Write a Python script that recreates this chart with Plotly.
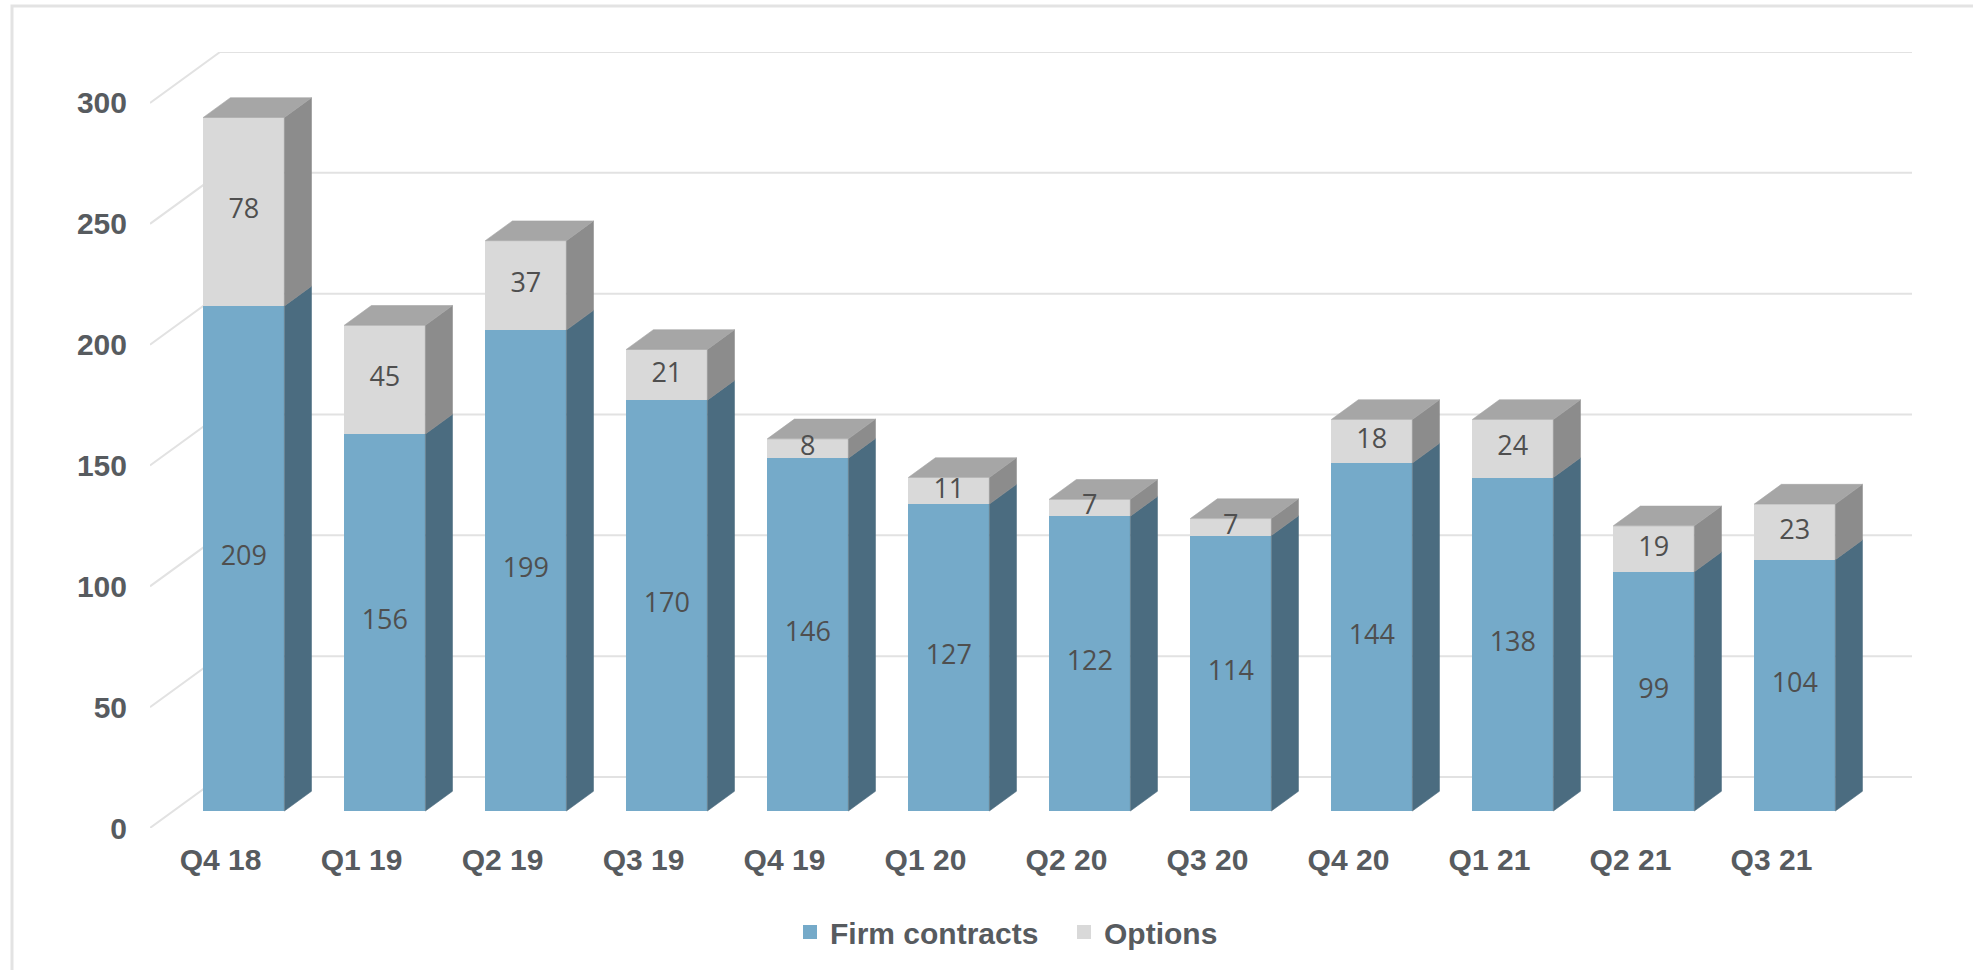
import plotly.graph_objects as go

# ---------------- data ----------------
categories = ["Q4 18", "Q1 19", "Q2 19", "Q3 19", "Q4 19", "Q1 20",
              "Q2 20", "Q3 20", "Q4 20", "Q1 21", "Q2 21", "Q3 21"]
firm_contracts = [209, 156, 199, 170, 146, 127, 122, 114, 144, 138, 99, 104]
options = [78, 45, 37, 21, 8, 11, 7, 7, 18, 24, 19, 23]
y_ticks = [0, 50, 100, 150, 200, 250, 300]
series_names = ["Firm contracts", "Options"]

# ---------------- style / geometry ----------------
W, H = 1973, 970
L, R, T, B = 150, 61, 52, 142
PW, PH = W - L - R, H - T - B

DXu = 0.4968      # full depth of the "box" in category units
DYu = 21.1        # full depth of the "box" in value units
D_FRONT = 1 / 3   # depth fraction of bar front plane
D_BACK = 0.72     # depth fraction of bar back plane
BAR_W = 0.575
X_LEFT, X_RIGHT = -0.5, len(categories) - 0.5
Y_MAX = y_ticks[-1]

FIRM_FRONT, FIRM_SIDE = "#75aac9", "#4b6c80"
OPT_FRONT, OPT_SIDE, OPT_TOP = "#d9d9d9", "#8c8c8c", "#a6a6a6"
GRID = "#e2e2e2"
TXT = "#575b5f"
LBL = "#4f4f4f"
BOLD = "Liberation Sans"


def proj(x, v, d):
    """world (x, value, depth) -> screen data coords (bar front plane = reference)"""
    return x + (d - D_FRONT) * DXu, v + (d - D_FRONT) * DYu


xs_min = proj(X_LEFT, 0, 0)[0]
xs_max = proj(X_RIGHT, 0, 1)[0]
ys_min = proj(0, 0, 0)[1]
ys_max = proj(0, Y_MAX, 1)[1]

xi = list(range(len(categories)))
bdx = (D_BACK - D_FRONT) * DXu
bdy = (D_BACK - D_FRONT) * DYu

fig = go.Figure()

# front faces (real stacked bars)
fig.add_trace(go.Bar(x=xi, y=firm_contracts, width=BAR_W, name=series_names[0],
                     marker=dict(color=FIRM_FRONT, line=dict(width=0)),
                     showlegend=False))
fig.add_trace(go.Bar(x=xi, y=options, width=BAR_W, name=series_names[1],
                     marker=dict(color=OPT_FRONT, line=dict(width=0)),
                     showlegend=False))


def poly_trace(polys, color):
    xs, ys = [], []
    for p in polys:
        for (a, b) in p:
            xs.append(a)
            ys.append(b)
        xs.append(p[0][0])
        ys.append(p[0][1])
        xs.append(None)
        ys.append(None)
    return go.Scatter(x=xs, y=ys, mode="lines", fill="toself", fillcolor=color,
                      line=dict(color=color, width=0.6), hoverinfo="skip",
                      showlegend=False)


firm_side, opt_side, opt_top = [], [], []
for i, f, o in zip(xi, firm_contracts, options):
    xr = i + BAR_W / 2
    xl = i - BAR_W / 2
    firm_side.append([(xr, 0), (xr + bdx, bdy), (xr + bdx, f + bdy), (xr, f)])
    top = f + o
    opt_side.append([(xr, f), (xr + bdx, f + bdy), (xr + bdx, top + bdy), (xr, top)])
    opt_top.append([(xl, top), (xr, top), (xr + bdx, top + bdy), (xl + bdx, top + bdy)])

fig.add_trace(poly_trace(firm_side, FIRM_SIDE))
fig.add_trace(poly_trace(opt_side, OPT_SIDE))
fig.add_trace(poly_trace(opt_top, OPT_TOP))

# data labels
lab_x, lab_y, lab_t = [], [], []
for i, f, o in zip(xi, firm_contracts, options):
    lab_x += [i, i]
    lab_y += [f / 2, f + o / 2]
    lab_t += [str(f), str(o)]
fig.add_trace(go.Scatter(x=lab_x, y=lab_y, text=lab_t, mode="text",
                         textposition="middle center",
                         textfont=dict(family="Open Sans", size=27, color=LBL),
                         hoverinfo="skip", showlegend=False))

# legend entries (one legend per entry for exact spacing)
fig.add_trace(go.Scatter(x=[None], y=[None], mode="markers", name=series_names[0],
                         marker=dict(symbol="square", size=14, color=FIRM_FRONT),
                         legend="legend", showlegend=True))
fig.add_trace(go.Scatter(x=[None], y=[None], mode="markers", name=series_names[1],
                         marker=dict(symbol="square", size=14, color=OPT_FRONT),
                         legend="legend2", showlegend=True))

# gridlines on side wall + back wall
shapes = []
for v in y_ticks:
    x0, y0 = proj(X_LEFT, v, 0)
    x1, y1 = proj(X_LEFT, v, 1)
    x2, y2 = proj(X_RIGHT, v, 1)
    shapes.append(dict(type="path", xref="x", yref="y", layer="below",
                       path=f"M{x0},{y0} L{x1},{y1} L{x2},{y2}",
                       line=dict(color=GRID, width=2)))

# outer border (top + left visible)
shapes.append(dict(type="rect", xref="paper", yref="paper", layer="below",
                   x0=(12 - L) / PW, x1=(W + 20 - L) / PW,
                   y0=(H - B - (H + 20)) / PH, y1=(H - B - 6) / PH,
                   line=dict(color="#e3e3e3", width=3)))

leg_font = dict(family=BOLD, size=30, color=TXT, weight="bold")
leg_y = (H - B - 932) / PH

fig.update_layout(
    width=W, height=H,
    margin=dict(l=L, r=R, t=T, b=B, autoexpand=False),
    paper_bgcolor="white", plot_bgcolor="white",
    barmode="stack", bargap=0,
    shapes=shapes,
    showlegend=True,
    legend=dict(orientation="h", x=(790 - L) / PW, xanchor="left",
                y=leg_y, yanchor="middle", font=leg_font,
                itemwidth=30, bgcolor="rgba(0,0,0,0)"),
    legend2=dict(orientation="h", x=(1064 - L) / PW, xanchor="left",
                 y=leg_y, yanchor="middle", font=leg_font,
                 itemwidth=30, bgcolor="rgba(0,0,0,0)"),
    xaxis=dict(range=[xs_min, xs_max], showgrid=False, zeroline=False,
               showline=False, ticks="",
               tickvals=[proj(i, 0, 0)[0] for i in xi], ticktext=categories,
               tickfont=dict(family=BOLD, size=30, color=TXT, weight="bold"),
               ticklabelstandoff=11, fixedrange=True),
    yaxis=dict(range=[ys_min, ys_max], showgrid=False, zeroline=False,
               showline=False, ticks="",
               tickvals=[proj(0, v, 0)[1] for v in y_ticks],
               ticktext=[str(v) for v in y_ticks],
               tickfont=dict(family=BOLD, size=30, color=TXT, weight="bold"),
               ticklabelstandoff=22, fixedrange=True),
)

fig.write_html("out.html")
